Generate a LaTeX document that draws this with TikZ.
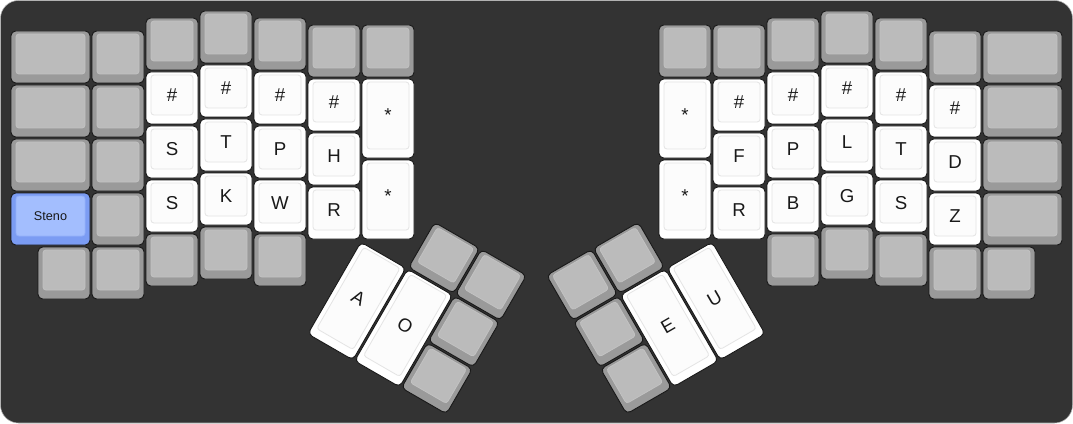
\documentclass[tikz,border=0pt]{standalone}
\usepackage{fontspec}
\setmainfont{Liberation Sans}

\begin{document}
\begin{tikzpicture}[x=0.75pt, y=-0.75pt,
	% Key caps, in px with y going down
	keycap/.style={draw=black!90, line width=0.7pt, fill=#1, rounded corners=3.5pt},
	keytop/.style={draw=#1, line width=0.6pt, rounded corners=2.2pt},
	legend/.style={font=\fontsize{14}{16}\selectfont, text=black!90, inner sep=0pt},
	]
	% Colors
	\definecolor{board}{HTML}{333333}
	\definecolor{rimgray}{HTML}{9A9A9A}
	\definecolor{topgray}{HTML}{BBBBBB}
	\definecolor{linegray}{HTML}{C2C2C2}
	\definecolor{topwhite}{HTML}{FCFCFC}
	\definecolor{linewhite}{HTML}{E4E4E4}
	\definecolor{rimblue}{HTML}{7B9CF3}
	\definecolor{topblue}{HTML}{A3BEFE}
	\definecolor{lineblue}{HTML}{93B0FA}
	
	\useasboundingbox (0,0) rectangle (1073,424);
	
	% Board
	\draw[fill=board, draw=black!30, rounded corners=13.5pt] (0.5,0.5) rectangle (1072.5,423);
	
	% Blank keys: left corner/top/width/height
	\foreach \x/\y/\w/\h in {11/31/79/52, 11/85/79/52, 11/139/79/52, 38/247/52/52,
		92/31/52/52, 92/85/52/52, 92/139/52/52, 92/193/52/52, 92/247/52/52,
		146/18/52/52, 146/234/52/52, 200/11/52/52, 200/227/52/52,
		254/18/52/52, 254/234/52/52, 308/25/52/52, 362/25/52/52,
		659/25/52/52, 713/25/52/52, 767/18/52/52, 767/234/52/52,
		821/11/52/52, 821/227/52/52, 875/18/52/52, 875/234/52/52,
		929/31/52/52, 929/247/52/52,
		983/31/79/52, 983/85/79/52, 983/139/79/52, 983/193/79/52, 983/247/52/52}{
		\draw[keycap=rimgray] (\x,\y) rectangle +(\w,\h);
		\draw[keytop=linegray, fill=topgray] (\x+5,\y+3) rectangle +(\w-10,\h-12);
	}
	
	% Steno layer key
	\draw[keycap=rimblue] (11,193) rectangle +(79,52);
	\draw[keytop=lineblue, fill=topblue] (16,196) rectangle +(69,40);
	\node[legend, font=\fontsize{9.5}{11}\selectfont] (steno) at (50.5,216) {Steno};
	
	% Steno keys with legends
	\foreach \x/\y/\w/\h/\lbl in {146/72/52/52/\#, 146/126/52/52/S, 146/180/52/52/S,
		200/65/52/52/\#, 200/119/52/52/T, 200/173/52/52/K,
		254/72/52/52/\#, 254/126/52/52/P, 254/180/52/52/W,
		308/79/52/52/\#, 308/133/52/52/H, 308/187/52/52/R,
		362/79/52/79/*, 362/160/52/79/*,
		659/79/52/79/*, 659/160/52/79/*,
		713/79/52/52/\#, 713/133/52/52/F, 713/187/52/52/R,
		767/72/52/52/\#, 767/126/52/52/P, 767/180/52/52/B,
		821/65/52/52/\#, 821/119/52/52/L, 821/173/52/52/G,
		875/72/52/52/\#, 875/126/52/52/T, 875/180/52/52/S,
		929/85/52/52/\#, 929/139/52/52/D, 929/193/52/52/Z}{
		\draw[keycap=white] (\x,\y) rectangle +(\w,\h);
		\draw[keytop=linewhite, fill=topwhite] (\x+5,\y+3) rectangle +(\w-10,\h-12);
		\node[legend] (key-\x-\y) at (\x+\w/2,\y+\h/2-3) {\lbl};
	}
	
	% Left thumb cluster
	\begin{scope}[shift={(387.5,194)}, rotate=-30]
	\foreach \x/\y in {55/1, 109/1, 109/55, 109/109}{
		\draw[keycap=rimgray] (\x,\y) rectangle +(52,52);
		\draw[keytop=linegray, fill=topgray] (\x+5,\y+3) rectangle +(42,40);
	}
	\foreach \x/\lbl in {1/A, 55/O}{
		\draw[keycap=white] (\x,55) rectangle +(52,106);
		\draw[keytop=linewhite, fill=topwhite] (\x+5,58) rectangle +(42,94);
		\node[legend, transform shape] (thumb-\lbl) at (\x+26,105) {\lbl};
	}
	\end{scope}
	
	% Right thumb cluster
	\begin{scope}[shift={(545.2,275)}, rotate=30]
	\foreach \x/\y in {1/1, 55/1, 1/55, 1/109}{
		\draw[keycap=rimgray] (\x,\y) rectangle +(52,52);
		\draw[keytop=linegray, fill=topgray] (\x+5,\y+3) rectangle +(42,40);
	}
	\foreach \x/\lbl in {55/E, 109/U}{
		\draw[keycap=white] (\x,55) rectangle +(52,106);
		\draw[keytop=linewhite, fill=topwhite] (\x+5,58) rectangle +(42,94);
		\node[legend, transform shape] (thumb-\lbl) at (\x+26,105) {\lbl};
	}
	\end{scope}
\end{tikzpicture}
\end{document}
